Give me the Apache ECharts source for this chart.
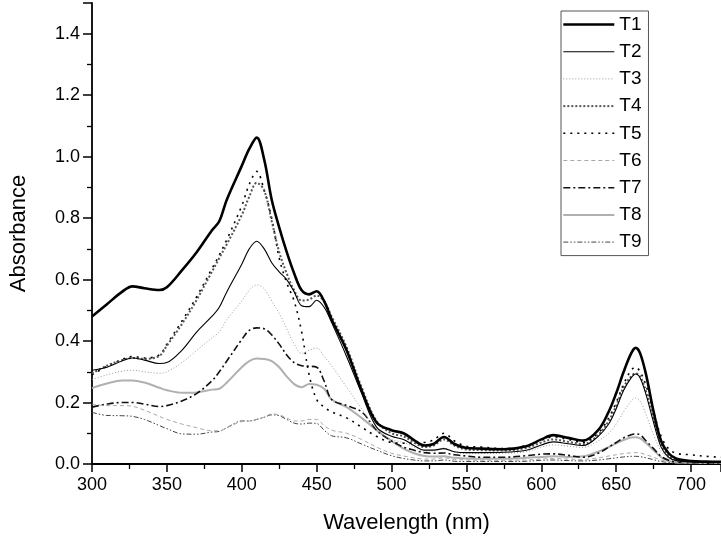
<!DOCTYPE html>
<html>
<head>
<meta charset="utf-8">
<script src="https://cdn.jsdelivr.net/npm/echarts@6/dist/echarts.min.js"></script>
<style>html,body{margin:0;padding:0;background:#fff}#c{width:721px;height:539px}</style>
</head>
<body>
<div id="c"></div>
<script>
var wavelengths = [300,310,320,327,335,345,350,360,370,380,385,390,400,405,410,415,420,425,430,435,440,445,450,455,460,470,480,490,500,508,515,522,528,535,542,550,560,575,590,600,608,618,628,638,645,650,655,660,663,666,670,675,680,685,690,700,710,720];
var T1 = [.48,.52,.56,.578,.572,.566,.575,.63,.69,.76,.79,.86,.97,1.025,1.062,.99,.86,.77,.69,.62,.565,.552,.562,.53,.47,.37,.24,.135,.11,.10,.078,.06,.065,.088,.065,.052,.05,.048,.058,.08,.094,.085,.076,.11,.17,.23,.30,.36,.378,.36,.29,.17,.075,.035,.018,.01,.008,.007];
var T2 = [.305,.315,.335,.345,.338,.327,.33,.37,.43,.48,.51,.56,.65,.70,.725,.70,.655,.625,.60,.56,.515,.512,.533,.51,.46,.35,.23,.12,.09,.08,.06,.045,.045,.05,.04,.037,.037,.038,.045,.062,.072,.066,.06,.09,.13,.18,.24,.28,.293,.28,.225,.135,.055,.022,.011,.007,.005,.005];
var T3 = [.275,.29,.302,.305,.30,.295,.30,.33,.37,.41,.43,.47,.53,.565,.583,.57,.53,.49,.44,.39,.36,.37,.377,.35,.32,.25,.18,.11,.08,.07,.055,.042,.042,.052,.038,.034,.034,.035,.04,.055,.062,.058,.054,.075,.10,.13,.17,.205,.215,.205,.16,.095,.042,.018,.009,.006,.005,.005];
var T4 = [.295,.32,.338,.345,.342,.352,.385,.455,.535,.625,.67,.715,.81,.87,.915,.89,.79,.69,.62,.565,.532,.535,.548,.53,.48,.38,.25,.14,.10,.09,.07,.055,.06,.08,.06,.047,.045,.044,.052,.07,.08,.072,.065,.095,.14,.19,.25,.285,.295,.285,.235,.145,.065,.028,.014,.008,.006,.006];
var T5 = [.29,.318,.34,.35,.345,.355,.39,.465,.545,.635,.68,.73,.84,.91,.952,.89,.80,.67,.59,.53,.43,.29,.21,.185,.17,.15,.12,.09,.07,.068,.068,.07,.078,.10,.075,.058,.055,.05,.06,.078,.088,.08,.07,.10,.15,.20,.26,.305,.315,.30,.255,.17,.09,.05,.035,.03,.025,.022];
var T6 = [.195,.19,.19,.188,.175,.155,.145,.13,.118,.108,.108,.118,.138,.14,.145,.152,.163,.16,.15,.14,.14,.145,.145,.125,.11,.10,.08,.055,.035,.026,.02,.016,.016,.02,.015,.013,.012,.012,.013,.016,.018,.016,.015,.02,.026,.03,.034,.036,.037,.036,.03,.022,.013,.008,.005,.004,.003,.003];
var T7 = [.185,.195,.2,.2,.195,.187,.19,.205,.23,.27,.30,.335,.405,.435,.443,.44,.42,.39,.355,.33,.32,.318,.315,.27,.21,.19,.17,.11,.075,.055,.045,.037,.035,.036,.03,.026,.022,.022,.027,.032,.033,.028,.022,.035,.055,.07,.085,.095,.098,.095,.075,.05,.025,.012,.006,.004,.003,.003];
var T8 = [.247,.262,.272,.272,.265,.248,.24,.232,.233,.242,.245,.265,.315,.335,.343,.342,.335,.315,.285,.26,.25,.26,.258,.245,.21,.185,.15,.11,.075,.05,.035,.026,.024,.025,.02,.018,.017,.017,.02,.023,.025,.023,.025,.04,.055,.067,.078,.086,.087,.083,.068,.045,.022,.01,.005,.004,.003,.003];
var T9 = [.168,.158,.157,.155,.145,.125,.115,.098,.097,.104,.106,.118,.14,.14,.145,.152,.16,.157,.145,.133,.13,.133,.132,.11,.092,.085,.065,.045,.027,.018,.013,.01,.01,.013,.009,.008,.008,.008,.009,.012,.013,.011,.01,.013,.017,.02,.023,.025,.025,.024,.02,.014,.008,.005,.003,.002,.002,.002];
var seriesNames = ['T1','T2','T3','T4','T5','T6','T7','T8','T9'];
var seriesValues = [T1,T2,T3,T4,T5,T6,T7,T8,T9];
var styles = [
  {color:'#000000', width:2.6, type:'solid'},
  {color:'#000000', width:1.1, type:'solid'},
  {color:'#9a9a9a', width:1, type:[1,2]},
  {color:'#555555', width:2, type:[2,2]},
  {color:'#000000', width:1.6, type:[2,5]},
  {color:'#a8a8a8', width:1, type:[4,3]},
  {color:'#111111', width:1.6, type:[7,3,2,3]},
  {color:'#b0b0b0', width:2, type:'solid'},
  {color:'#444444', width:1, type:[5,2,1.5,2,1.5,2]}
];
var series = seriesNames.map(function(n,i){
  return {
    name:n, type:'line', symbol:'none', smooth:0.35,
    data: wavelengths.map(function(w,j){return [w, seriesValues[i][j]];}),
    lineStyle:{color:styles[i].color, width:styles[i].width, type:styles[i].type},
    itemStyle:{color:styles[i].color},
    z: 10-i
  };
});
var legendData = seriesNames.map(function(n,i){
  return {name:n, lineStyle:{width:styles[i].width, type:styles[i].type, color:styles[i].color}};
});
var font = 'Liberation Sans, Arial, sans-serif';
var chart = echarts.init(document.getElementById('c'));
chart.setOption({
  animation:false,
  backgroundColor:'#fff',
  grid:{left:91, right:0, top:3, bottom:71, containLabel:false},
  legend:{
    orient:'vertical', left:561, top:11,
    itemWidth:51, itemHeight:14, itemGap:8.2,
    padding:[4,7,4,1],
    borderColor:'#555', borderWidth:1,
    itemStyle:{opacity:0},
    textStyle:{fontFamily:font, fontSize:19, color:'#000'},
    data: legendData
  },
  xAxis:{
    type:'value', min:300, max:720, interval:50,
    name:'Wavelength (nm)', nameLocation:'middle', nameGap:48,
    nameTextStyle:{fontFamily:font, fontSize:22, color:'#000'},
    axisLine:{lineStyle:{color:'#000', width:1.8}},
    axisTick:{inside:false, length:8, lineStyle:{color:'#000', width:1.5}},
    minorTick:{show:true, splitNumber:2, length:5, lineStyle:{color:'#000', width:1.3}},
    axisLabel:{fontFamily:font, fontSize:18, color:'#000', margin:12, showMaxLabel:false},
    splitLine:{show:false}
  },
  yAxis:{
    type:'value', min:0, max:1.5, interval:0.2,
    name:'Absorbance', nameLocation:'middle', nameGap:62,
    nameTextStyle:{fontFamily:font, fontSize:22, color:'#000'},
    axisLine:{show:true, lineStyle:{color:'#000', width:1.8}},
    axisTick:{show:true, inside:false, length:9, lineStyle:{color:'#000', width:1.5}},
    minorTick:{show:true, splitNumber:2, length:5, lineStyle:{color:'#000', width:1.3}},
    axisLabel:{fontFamily:font, fontSize:18, color:'#000', margin:12, showMaxLabel:false,
      formatter:function(v){return v.toFixed(1);}},
    splitLine:{show:false}
  },
  series: series
});
</script>
</body>
</html>
